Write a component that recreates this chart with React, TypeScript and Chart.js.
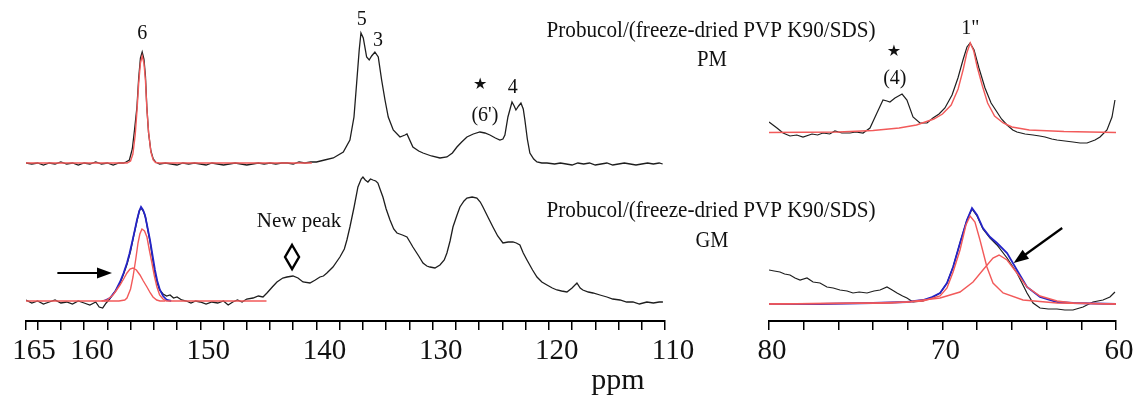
import React, { useEffect, useRef } from 'react';
import { Chart, registerables } from 'chart.js';
Chart.register(...registerables);

type P = [number, number];

// ---------- axes ----------
const leftTickValues = [165, 164, 162, 160, 158, 156, 154, 152, 150, 148, 146, 144, 142, 140, 138, 136, 134, 132, 130, 128, 126, 124, 122, 120, 118, 116, 114, 112, 110];
const leftTickLabels = [165, 160, 150, 140, 130, 120, 110];
const rightTickValues = [80, 78, 76, 74, 72, 70, 68, 66, 64, 62, 60];
const rightTickLabels = [80, 70, 60];

// ---------- PM (top) spectrum, left region ----------
const pmLeftBlack: P[] = [
  [165.0, 158], [164.5, 157], [164.0, 158], [163.5, 156], [163.0, 158], [162.5, 157], [162.0, 159], [161.5, 157],
  [161.0, 158], [160.5, 156], [160.0, 158], [159.5, 157], [159.0, 159], [158.5, 157], [158.0, 158], [157.5, 156],
  [157.0, 158], [156.6, 158], [156.4, 159], [156.1, 161], [155.85, 172], [155.65, 192], [155.45, 214], [155.3, 243],
  [155.15, 263], [155.0, 269], [154.85, 262], [154.72, 245], [154.6, 214], [154.45, 188], [154.25, 170], [154.05, 162],
  [153.85, 159], [153.5, 157], [153.0, 158], [152.5, 157], [152.0, 156], [151.5, 158], [151.0, 157], [150.5, 158],
  [150.0, 157], [149.5, 156], [149.0, 158], [148.5, 157], [148.0, 156], [147.5, 157], [147.0, 158], [146.5, 157],
  [146.0, 156], [145.5, 157], [145.0, 158], [144.5, 157], [144.0, 158], [143.5, 157], [143.0, 158], [142.5, 158],
  [142.0, 157], [141.5, 159], [141.0, 158], [140.5, 159], [140.0, 159], [139.3, 161], [138.55, 163], [137.69, 169],
  [137.12, 181], [136.77, 204], [136.54, 238], [136.32, 271], [136.17, 288], [135.97, 283], [135.68, 264], [135.46, 261],
  [135.25, 265], [134.97, 269], [134.68, 264], [134.39, 241], [134.1, 221], [133.82, 204], [133.39, 191], [132.81, 184],
  [132.38, 186], [132.21, 187], [131.7, 174], [131.2, 170], [130.83, 168], [130.1, 165], [129.37, 163], [128.77, 164],
  [128.3, 168], [127.91, 174], [127.5, 179], [127.05, 184], [126.5, 187], [125.93, 189], [125.5, 188], [125.07, 186],
  [124.6, 183], [124.21, 181], [123.95, 182], [123.78, 186], [123.52, 204], [123.17, 219], [122.98, 215], [122.83, 211],
  [122.6, 215], [122.4, 218], [122.2, 212], [122.06, 201], [121.85, 182], [121.63, 168], [121.3, 162], [121.02, 159],
  [120.6, 158], [120.16, 158], [119.5, 157], [119.0, 158], [118.5, 157], [118.0, 156], [117.5, 158], [117.0, 157],
  [116.5, 158], [116.0, 156], [115.5, 157], [115.0, 158], [114.5, 156], [114.0, 157], [113.5, 158], [113.0, 157],
  [112.5, 156], [112.0, 157], [111.5, 158], [111.0, 157], [110.5, 158], [110.2, 157],
];
const pmLeftRed: P[] = [
  [165.0, 158], [156.3, 158], [156.0, 160], [155.8, 167], [155.6, 186], [155.45, 210], [155.3, 238], [155.15, 258],
  [155.0, 265], [154.85, 258], [154.72, 241], [154.6, 213], [154.45, 189], [154.25, 169], [154.05, 161], [153.85, 158.5],
  [153.5, 158], [140.4, 158],
];

// ---------- GM (bottom) spectrum, left region ----------
const gmLeftBlack: P[] = [
  [165.0, 21], [164.5, 18], [164.0, 20], [163.5, 17], [163.0, 19], [162.5, 21], [162.0, 18], [161.5, 19],
  [161.0, 17], [160.5, 20], [160.0, 18], [159.5, 16], [159.0, 19], [158.7, 14], [158.4, 13], [158.1, 18],
  [157.8, 22], [157.5, 27], [157.2, 32], [156.9, 38], [156.6, 47], [156.3, 57], [156.0, 70], [155.7, 87],
  [155.45, 100], [155.25, 110], [155.1, 113], [154.9, 110], [154.7, 103], [154.5, 90], [154.3, 78], [154.1, 62],
  [153.9, 48], [153.7, 38], [153.5, 31], [153.2, 27], [152.9, 25], [152.6, 26], [152.3, 23], [152.0, 24],
  [151.6, 21], [151.2, 20], [150.8, 18], [150.4, 20], [150.0, 19], [149.5, 17], [149.0, 19], [148.5, 18],
  [148.0, 20], [147.6, 16], [147.2, 19], [146.8, 21], [146.4, 19], [146.0, 22], [145.46, 23], [145.0, 25],
  [144.6, 24], [144.26, 28], [143.8, 34], [143.4, 39], [142.9, 43], [142.54, 44], [142.02, 45], [141.59, 43],
  [141.16, 39], [140.56, 38], [140.1, 41], [139.7, 44], [139.4, 45], [139.1, 48], [138.58, 54], [137.98, 64],
  [137.6, 72], [137.38, 81], [137.12, 94], [136.76, 114], [136.43, 134], [136.15, 142], [136.0, 144], [135.8, 141],
  [135.57, 139], [135.35, 142], [135.14, 141], [134.9, 140], [134.71, 138], [134.5, 131], [134.28, 124], [134.0, 112],
  [133.67, 101], [133.35, 92], [133.07, 88], [132.6, 86], [132.21, 84], [131.9, 78], [131.7, 74], [131.2, 65],
  [130.83, 58], [130.5, 55], [130.23, 54], [129.8, 53], [129.37, 56], [129.0, 61], [128.77, 68], [128.5, 80],
  [128.25, 94], [127.9, 106], [127.65, 114], [127.3, 120], [127.05, 123], [126.6, 124], [126.19, 123], [125.9, 119],
  [125.67, 114], [125.2, 103], [124.81, 94], [124.4, 85], [123.95, 78], [123.5, 79], [123.09, 79], [122.8, 78],
  [122.49, 76], [122.2, 68], [121.88, 61], [121.4, 51], [121.02, 44], [120.6, 39], [120.16, 36], [119.7, 33],
  [119.3, 31], [118.9, 30], [118.44, 29], [118.0, 33], [117.58, 38], [117.3, 33], [117.07, 31], [116.6, 29],
  [116.2, 28], [115.6, 26], [115.0, 24], [114.5, 22], [113.88, 21], [113.3, 19], [112.76, 19], [112.2, 17],
  [111.56, 19], [111.0, 18], [110.5, 19], [110.18, 19],
];
const gmLeftRedMain: P[] = [
  [165.0, 20], [157.0, 20], [156.5, 21], [156.31, 23], [156.0, 32], [155.79, 44], [155.55, 62], [155.36, 78],
  [155.2, 87], [155.02, 92], [154.8, 90], [154.59, 84], [154.4, 72], [154.16, 58], [153.95, 45], [153.73, 34],
  [153.5, 26], [153.21, 22], [152.9, 20], [144.3, 20],
];
const gmLeftRedMinor: P[] = [
  [158.5, 20], [158.03, 21], [157.51, 26], [157.2, 31], [156.91, 36], [156.6, 42], [156.31, 48], [156.05, 52],
  [155.79, 53], [155.5, 51], [155.19, 46], [154.9, 40], [154.59, 34], [154.3, 28], [154.07, 24], [153.75, 21],
  [153.47, 20], [153.0, 20],
];
const gmLeftBlue: P[] = [
  [158.3, 20], [157.77, 23], [157.3, 30], [156.91, 39], [156.6, 48], [156.31, 58], [156.1, 67], [155.88, 78],
  [155.65, 90], [155.45, 101], [155.25, 110], [155.1, 114], [154.93, 111], [154.76, 106], [154.55, 94], [154.33, 81],
  [154.1, 65], [153.9, 51], [153.7, 40], [153.47, 31], [153.2, 25], [152.87, 21], [152.5, 20],
];

// ---------- right region (80-60 ppm) ----------
const pmRightBlack: P[] = [
  [80.0, 199], [79.54, 193], [79.19, 188], [78.79, 185], [78.4, 186], [78.04, 184], [77.52, 187], [77.2, 186],
  [76.89, 188], [76.5, 187], [76.2, 190], [75.8, 188], [75.33, 188], [75.0, 189], [74.58, 188], [74.18, 193],
  [73.78, 208], [73.43, 221], [73.2, 220], [73.03, 219], [72.74, 223], [72.33, 227], [72.05, 221], [71.7, 204],
  [71.3, 198], [70.89, 198], [70.55, 203], [70.2, 207], [69.86, 213], [69.45, 226], [69.11, 243], [68.82, 261],
  [68.59, 274], [68.41, 278], [68.18, 271], [67.9, 253], [67.55, 233], [67.2, 218], [66.86, 209], [66.6, 202],
  [66.28, 196], [65.95, 191], [65.71, 189], [65.24, 187], [64.78, 186], [64.4, 185], [64.09, 184], [63.7, 182],
  [63.4, 181], [62.94, 180], [62.48, 179], [62.07, 178], [61.67, 178], [61.21, 181], [60.92, 184], [60.52, 191],
  [60.23, 204], [60.06, 221],
];
const pmRightRed: P[] = [
  [80.0, 188.5], [76.0, 189], [74.0, 190.5], [72.5, 193], [71.5, 196], [70.5, 202], [70.0, 207], [69.5, 216],
  [69.1, 232], [68.8, 252], [68.6, 268], [68.4, 278], [68.2, 270], [68.0, 254], [67.7, 235], [67.4, 218],
  [67.0, 205], [66.5, 198], [66.0, 194], [65.0, 191], [63.0, 189.5], [60.0, 188.5],
];
const gmRightBlack: P[] = [
  [80.0, 51], [79.7, 50], [79.37, 49], [79.1, 47], [78.79, 46], [78.5, 43], [78.21, 41], [77.81, 43],
  [77.46, 39], [77.06, 38], [76.66, 34], [76.3, 33], [75.91, 31], [75.5, 30], [75.16, 28], [74.8, 29],
  [74.35, 28], [73.95, 30], [73.6, 31], [73.2, 34], [72.9, 31], [72.62, 28], [72.3, 25], [72.05, 23],
  [71.7, 19], [71.12, 20], [70.43, 25], [70.14, 28], [69.74, 38], [69.39, 54], [68.99, 78], [68.59, 101],
  [68.3, 112], [68.01, 105], [67.67, 92], [67.26, 83], [66.86, 76], [66.28, 63], [65.71, 48], [65.13, 28],
  [64.78, 18], [64.38, 13], [63.9, 12], [63.4, 12], [62.95, 11], [62.48, 11], [61.9, 14], [61.33, 19],
  [60.75, 21], [60.35, 24], [60.06, 29],
];
const gmRightBlue: P[] = [
  [80.0, 17], [77.06, 17], [74.01, 18], [72.05, 19], [71.12, 21], [70.6, 24], [70.14, 28], [69.74, 38],
  [69.39, 54], [68.99, 78], [68.59, 101], [68.3, 113], [68.01, 106], [67.67, 93], [67.26, 84], [66.86, 78],
  [66.28, 68], [65.71, 51], [65.13, 34], [64.38, 24], [63.4, 19], [62.48, 18], [60.0, 17],
];
const gmRightRedMain: P[] = [
  [80.0, 17], [73.0, 18], [71.12, 20], [70.14, 25], [69.74, 33], [69.39, 49], [68.99, 71], [68.65, 96],
  [68.41, 105], [68.13, 99], [67.84, 81], [67.44, 54], [67.09, 38], [66.51, 28], [65.36, 21], [63.4, 18], [60.0, 17],
];
const gmRightRedMinor: P[] = [
  [80.0, 17], [74.0, 18], [72.05, 19], [70.14, 23], [68.99, 29], [68.24, 39], [67.67, 51], [67.09, 63],
  [66.74, 66], [66.28, 61], [65.71, 48], [65.13, 34], [64.38, 25], [63.4, 20], [62.48, 18], [60.0, 17],
];

// ---------- styling ----------
const BLACK = '#1e1e1e';
const RED = '#f25a5a';
const BLUE = '#2424c8';
const SERIF = "'Liberation Serif', 'Times New Roman', serif";
const W = 1136;
const H = 397;
const AXIS_BAND = 76;

type Label = { text: string; ppm: number; y: number; size: number; star?: boolean };
type Arrow = { x1: number; y1: number; x2: number; y2: number };

const leftLabels: Label[] = [
  { text: '6', ppm: 155.0, y: 282, size: 20 },
  { text: '5', ppm: 136.1, y: 296, size: 20 },
  { text: '3', ppm: 134.7, y: 275, size: 20 },
  { text: '★', ppm: 125.9, y: 232, size: 16, star: true },
  { text: "(6')", ppm: 125.5, y: 200, size: 20 },
  { text: '4', ppm: 123.1, y: 228, size: 20 },
  { text: 'New peak', ppm: 141.5, y: 94, size: 21 },
];
const rightLabels: Label[] = [
  { text: '1"', ppm: 68.4, y: 287, size: 20 },
  { text: '★', ppm: 72.8, y: 265, size: 16, star: true },
  { text: '(4)', ppm: 72.75, y: 237, size: 20 },
];
const leftArrows: Arrow[] = [{ x1: 162.3, y1: 48, x2: 157.6, y2: 48 }];
const rightArrows: Arrow[] = [{ x1: 63.1, y1: 93, x2: 65.9, y2: 58 }];
const diamond = { ppm: 142.1, y: 64 };

function drawArrow(ctx: CanvasRenderingContext2D, x1: number, y1: number, x2: number, y2: number) {
  const ang = Math.atan2(y2 - y1, x2 - x1);
  const hl = 15, hw = 5.5;
  ctx.strokeStyle = '#000';
  ctx.fillStyle = '#000';
  ctx.lineWidth = 2.2;
  ctx.beginPath();
  ctx.moveTo(x1, y1);
  ctx.lineTo(x2 - hl * 0.8 * Math.cos(ang), y2 - hl * 0.8 * Math.sin(ang));
  ctx.stroke();
  ctx.beginPath();
  ctx.moveTo(x2, y2);
  ctx.lineTo(x2 - hl * Math.cos(ang) + hw * Math.sin(ang), y2 - hl * Math.sin(ang) - hw * Math.cos(ang));
  ctx.lineTo(x2 - hl * Math.cos(ang) - hw * Math.sin(ang), y2 - hl * Math.sin(ang) + hw * Math.cos(ang));
  ctx.closePath();
  ctx.fill();
}

function drawFitted(ctx: CanvasRenderingContext2D, text: string, cx: number, baseline: number, size: number, width: number) {
  ctx.save();
  ctx.font = `${size}px ${SERIF}`;
  const m = ctx.measureText(text).width;
  const s = width / m;
  ctx.translate(cx, baseline);
  ctx.scale(s, 1);
  ctx.textAlign = 'center';
  ctx.textBaseline = 'alphabetic';
  ctx.fillStyle = '#111';
  ctx.fillText(text, 0, 0);
  ctx.restore();
}

function makeAnnotations(labels: Label[], arrows: Arrow[], extra?: (chart: any) => void) {
  return {
    id: 'annot',
    afterDraw(chart: any) {
      const ctx: CanvasRenderingContext2D = chart.ctx;
      const xs = chart.scales.x;
      const ys = chart.scales.y;
      ctx.save();
      for (const l of labels) {
        ctx.font = l.star ? `${l.size}px 'DejaVu Sans', sans-serif` : `${l.size}px ${SERIF}`;
        ctx.fillStyle = '#111';
        ctx.textAlign = 'center';
        ctx.textBaseline = 'alphabetic';
        ctx.fillText(l.text, xs.getPixelForValue(l.ppm), ys.getPixelForValue(l.y));
      }
      for (const a of arrows) {
        drawArrow(ctx, xs.getPixelForValue(a.x1), ys.getPixelForValue(a.y1), xs.getPixelForValue(a.x2), ys.getPixelForValue(a.y2));
      }
      if (extra) extra(chart);
      ctx.restore();
    },
  };
}

function line(data: P[], color: string, width: number) {
  return {
    data: data.map(([x, y]) => ({ x, y })),
    borderColor: color,
    borderWidth: width,
    pointRadius: 0,
    tension: 0,
    fill: false,
  };
}

function buildChart(
  canvas: HTMLCanvasElement,
  min: number,
  max: number,
  tickVals: number[],
  tickLabels: number[],
  padLeft: number,
  padRight: number,
  labelOffset: number,
  datasets: any[],
  plugin: any
) {
  return new Chart(canvas, {
    type: 'line',
    data: { datasets },
    options: {
      animation: false,
      responsive: false,
      maintainAspectRatio: false,
      devicePixelRatio: 1,
      layout: { padding: { left: padLeft, right: padRight, top: 0, bottom: 0 } },
      plugins: { legend: { display: false }, tooltip: { enabled: false } },
      scales: {
        x: {
          type: 'linear',
          reverse: true,
          min,
          max,
          afterBuildTicks: (scale: any) => {
            scale.ticks = tickVals.map((v) => ({ value: v }));
          },
          afterFit: (scale: any) => {
            scale.height = AXIS_BAND;
          },
          border: { display: true, color: '#000', width: 2 },
          grid: { drawOnChartArea: false, drawTicks: true, tickLength: 9, color: '#000', lineWidth: 1.5 },
          ticks: {
            autoSkip: false,
            maxRotation: 0,
            minRotation: 0,
            padding: 4,
            labelOffset,
            color: '#111',
            font: { family: SERIF, size: 29 },
            callback: (v: any) => (tickLabels.includes(Number(v)) ? String(v) : ''),
          },
        },
        y: { type: 'linear', display: false, min: 0, max: H - AXIS_BAND },
      },
    },
    plugins: [plugin],
  } as any);
}

export default function App() {
  const leftRef = useRef<HTMLCanvasElement>(null);
  const rightRef = useRef<HTMLCanvasElement>(null);

  useEffect(() => {
    const leftPlugin = makeAnnotations(leftLabels, leftArrows, (chart: any) => {
      const ctx: CanvasRenderingContext2D = chart.ctx;
      const xs = chart.scales.x;
      const ys = chart.scales.y;
      // diamond marker
      const cx = xs.getPixelForValue(diamond.ppm);
      const cy = ys.getPixelForValue(diamond.y);
      ctx.strokeStyle = '#000';
      ctx.lineWidth = 2.4;
      ctx.beginPath();
      ctx.moveTo(cx, cy - 12);
      ctx.lineTo(cx + 7, cy);
      ctx.lineTo(cx, cy + 12);
      ctx.lineTo(cx - 7, cy);
      ctx.closePath();
      ctx.stroke();
      // sample titles
      drawFitted(ctx, 'Probucol/(freeze-dried PVP K90/SDS)', 711, 37, 23, 329);
      drawFitted(ctx, 'PM', 712, 66, 23, 30);
      drawFitted(ctx, 'Probucol/(freeze-dried PVP K90/SDS)', 711, 217, 23, 329);
      drawFitted(ctx, 'GM', 712, 247, 23, 33);
      // axis title
      ctx.font = `30px ${SERIF}`;
      ctx.fillStyle = '#111';
      ctx.textAlign = 'center';
      ctx.textBaseline = 'alphabetic';
      ctx.fillText('ppm', 618, 389);
    });
    const rightPlugin = makeAnnotations(rightLabels, rightArrows);

    const left = buildChart(
      leftRef.current!,
      110,
      165,
      leftTickValues,
      leftTickLabels,
      26,
      W - 665,
      8,
      [
        line(pmLeftRed, RED, 1.4),
        line(pmLeftBlack, BLACK, 1.3),
        line(gmLeftRedMain, RED, 1.4),
        line(gmLeftRedMinor, RED, 1.4),
        line(gmLeftBlue, BLUE, 1.8),
        line(gmLeftBlack, BLACK, 1.3),
      ],
      leftPlugin
    );
    const right = buildChart(
      rightRef.current!,
      60,
      80,
      rightTickValues,
      rightTickLabels,
      769,
      W - 1116,
      3,
      [
        line(pmRightRed, RED, 1.4),
        line(pmRightBlack, BLACK, 1.2),
        line(gmRightRedMain, RED, 1.4),
        line(gmRightRedMinor, RED, 1.4),
        line(gmRightBlue, BLUE, 1.8),
        line(gmRightBlack, BLACK, 1.2),
      ],
      rightPlugin
    );
    return () => {
      left.destroy();
      right.destroy();
    };
  }, []);

  const cstyle: React.CSSProperties = { position: 'absolute', left: 0, top: 0, width: W, height: H };
  return (
    <div style={{ position: 'absolute', left: 0, top: 0, width: W, height: H, background: '#fff' }}>
      <canvas ref={leftRef} width={W} height={H} style={cstyle} />
      <canvas ref={rightRef} width={W} height={H} style={cstyle} />
    </div>
  );
}
